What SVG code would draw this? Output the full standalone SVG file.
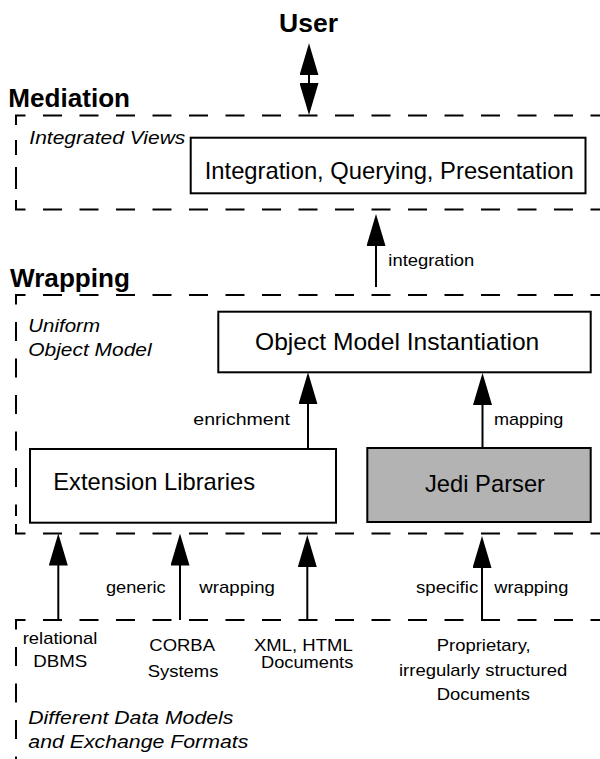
<svg xmlns="http://www.w3.org/2000/svg" width="600" height="759" viewBox="0 0 600 759">
<style>
  text { font-family: "Liberation Sans", Arial, sans-serif; fill: #000; }
  .title { font-size: 25px; font-weight: bold; }
  .boxt { font-size: 24px; }
  .lbl { font-size: 17px; }
  .it { font-size: 19px; font-style: italic; }
  .box { fill: #fff; stroke: #000; stroke-width: 2; }
  .gray { fill: #b3b3b3; }
  .dash { fill: none; stroke: #000; stroke-width: 2; stroke-dasharray: 19 17.5; }
  .solid { fill: none; stroke: #000; stroke-width: 2; }
  .arrow { fill: none; stroke: #000; stroke-width: 2; marker-end: url(#ah); }
  .darrow { fill: none; stroke: #000; stroke-width: 2; marker-end: url(#ah); marker-start: url(#ah); }
</style>
<defs>
  <marker id="ah" markerUnits="userSpaceOnUse" markerWidth="32" markerHeight="19" viewBox="0 0 32 19" refX="16" refY="9.5" orient="auto-start-reverse">
    <path d="M0,0 L32,9.5 L0,19 z" fill="#000"/>
  </marker>
</defs>
<rect width="600" height="759" fill="#fff"/>

<g id="user">
  <text class="title" x="279" y="31.7" textLength="59" lengthAdjust="spacingAndGlyphs">User</text>
</g>

<g id="mediation">
  <text class="title" x="8.3" y="106.7" textLength="121.7" lengthAdjust="spacingAndGlyphs">Mediation</text>
  <path class="dash" d="M16,125 V115.5 H610"/>
  <path class="dash" d="M16,200 V209.5 H610"/>
  <path class="solid" d="M16,140 V155 M16,167 V189"/>
  <text class="it" x="29.3" y="143.5" textLength="156" lengthAdjust="spacingAndGlyphs">Integrated Views</text>
</g>

<g id="integration-box">
  <rect class="box" x="190.7" y="137.7" width="394.8" height="55.6"/>
  <text class="boxt" x="204.7" y="179.3" textLength="369" lengthAdjust="spacingAndGlyphs">Integration, Querying, Presentation</text>
</g>

<g id="wrapping">
  <text class="title" x="10" y="286.7" textLength="120" lengthAdjust="spacingAndGlyphs">Wrapping</text>
  <path class="dash" d="M16,304.5 V295 H610"/>
  <path class="dash" d="M16,524 V533.5 H610"/>
  <path class="dash" d="M16,322 V516"/>
  <text class="it" x="28.3" y="332.3" textLength="71.7" lengthAdjust="spacingAndGlyphs">Uniform</text>
  <text class="it" x="28.3" y="356" textLength="123.3" lengthAdjust="spacingAndGlyphs">Object Model</text>
</g>

<g id="object-model-box">
  <rect class="box" x="218.3" y="311.7" width="372.4" height="60.6"/>
  <text class="boxt" x="255" y="349.5" textLength="284.3" lengthAdjust="spacingAndGlyphs">Object Model Instantiation</text>
</g>

<g id="extension-libraries-box">
  <rect class="box" x="30" y="449" width="306" height="73.7"/>
  <text class="boxt" x="53.3" y="490" textLength="201.7" lengthAdjust="spacingAndGlyphs">Extension Libraries</text>
</g>

<g id="jedi-parser-box">
  <rect class="box gray" x="367.3" y="448" width="223.4" height="74"/>
  <text class="boxt" x="425" y="492.3" textLength="120" lengthAdjust="spacingAndGlyphs">Jedi Parser</text>
</g>

<g id="sources">
  <path class="dash" d="M16,629.5 V620 H610"/>
  <path class="dash" d="M16,647 V770"/>
  <text class="lbl" x="22.7" y="644" textLength="74.7" lengthAdjust="spacingAndGlyphs">relational</text>
  <text class="lbl" x="33.3" y="666.7" textLength="54" lengthAdjust="spacingAndGlyphs">DBMS</text>
  <text class="lbl" x="149.3" y="650.7" textLength="65.7" lengthAdjust="spacingAndGlyphs">CORBA</text>
  <text class="lbl" x="147.7" y="676.7" textLength="70.7" lengthAdjust="spacingAndGlyphs">Systems</text>
  <text class="lbl" x="254" y="650.7" textLength="98.7" lengthAdjust="spacingAndGlyphs">XML, HTML</text>
  <text class="lbl" x="261" y="668.3" textLength="92.3" lengthAdjust="spacingAndGlyphs">Documents</text>
  <text class="lbl" x="436.7" y="650.7" textLength="94" lengthAdjust="spacingAndGlyphs">Proprietary,</text>
  <text class="lbl" x="399" y="675.7" textLength="168.3" lengthAdjust="spacingAndGlyphs">irregularly structured</text>
  <text class="lbl" x="436.7" y="700" textLength="93.3" lengthAdjust="spacingAndGlyphs">Documents</text>
  <text class="it" x="28.3" y="724" textLength="205" lengthAdjust="spacingAndGlyphs">Different Data Models</text>
  <text class="it" x="28.3" y="748.3" textLength="220" lengthAdjust="spacingAndGlyphs">and Exchange Formats</text>
</g>

<g id="connectors">
  <line class="darrow" x1="309" y1="59.3" x2="309" y2="99"/>
  <line class="arrow" x1="376" y1="287" x2="376" y2="230"/>
  <line class="arrow" x1="308" y1="448.5" x2="308" y2="388.3"/>
  <line class="arrow" x1="482.5" y1="447.5" x2="482.5" y2="389"/>
  <line class="arrow" x1="58.3" y1="620" x2="58.3" y2="549.5"/>
  <line class="arrow" x1="180" y1="620" x2="180" y2="549.5"/>
  <line class="arrow" x1="307.3" y1="620" x2="307.3" y2="551"/>
  <line class="arrow" x1="482" y1="620" x2="482" y2="552"/>
  <text class="lbl" x="388.3" y="266" textLength="86" lengthAdjust="spacingAndGlyphs">integration</text>
  <text class="lbl" x="193.3" y="425" textLength="96.7" lengthAdjust="spacingAndGlyphs">enrichment</text>
  <text class="lbl" x="494" y="425" textLength="69.3" lengthAdjust="spacingAndGlyphs">mapping</text>
  <text class="lbl" x="106" y="593.3" textLength="59.7" lengthAdjust="spacingAndGlyphs">generic</text>
  <text class="lbl" x="199.3" y="593.3" textLength="75.7" lengthAdjust="spacingAndGlyphs">wrapping</text>
  <text class="lbl" x="416" y="592.7" textLength="62.3" lengthAdjust="spacingAndGlyphs">specific</text>
  <text class="lbl" x="494.3" y="592.7" textLength="74" lengthAdjust="spacingAndGlyphs">wrapping</text>
</g>
</svg>
